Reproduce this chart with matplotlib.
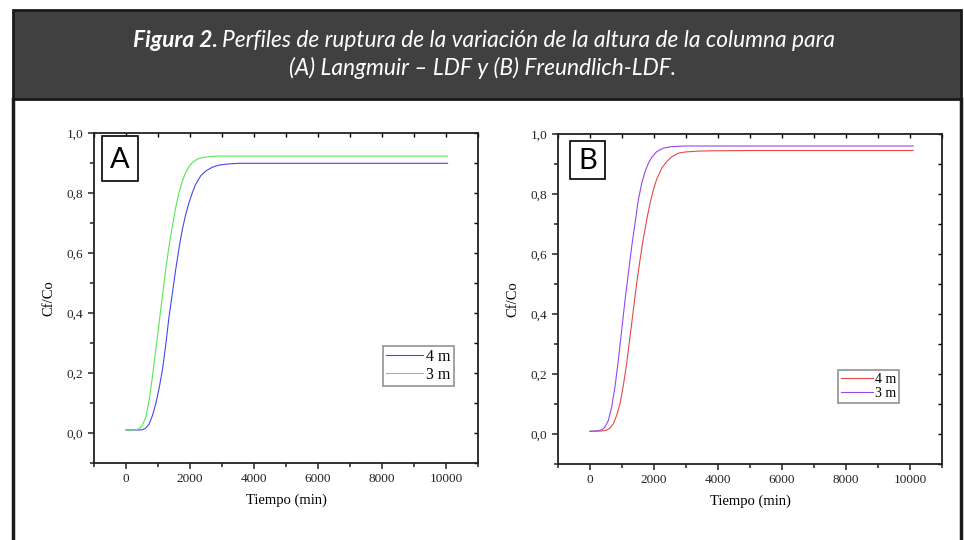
import matplotlib
matplotlib.use("Agg")
import matplotlib.pyplot as plt
from matplotlib.ticker import MultipleLocator, FuncFormatter
from matplotlib.patches import Rectangle

# Panel A: Langmuir - LDF  (tiempo en min, Cf/Co)
a_4m_t = [0, 406, 510, 615, 719, 823, 927, 1031, 1135, 1240, 1344, 1448, 1552, 1656, 1760,
          1865, 1969, 2073, 2177, 2333, 2490, 2698, 2906, 3219, 3531, 5000, 10050]
a_4m_c = [0.010, 0.010, 0.011, 0.016, 0.029, 0.057, 0.096, 0.147, 0.208, 0.292, 0.387, 0.465,
          0.544, 0.616, 0.678, 0.728, 0.768, 0.801, 0.829, 0.857, 0.873, 0.886, 0.893, 0.897,
          0.899, 0.899, 0.899]
a_3m_t = [0, 198, 302, 406, 510, 615, 719, 823, 927, 1031, 1135, 1240, 1344, 1448, 1552, 1656,
          1760, 1865, 1969, 2073, 2229, 2385, 2646, 2906, 4000, 10050]
a_3m_c = [0.010, 0.010, 0.011, 0.014, 0.026, 0.051, 0.107, 0.185, 0.275, 0.364, 0.454, 0.544,
          0.622, 0.689, 0.751, 0.801, 0.840, 0.868, 0.888, 0.902, 0.913, 0.918, 0.922, 0.923,
          0.923, 0.923]

# Panel B: Freundlich - LDF
b_4m_t = [0, 365, 521, 625, 729, 833, 938, 1042, 1146, 1250, 1354, 1458, 1563, 1667, 1771,
          1875, 1979, 2083, 2240, 2396, 2552, 2760, 2969, 3385, 3802, 5000, 10100]
b_4m_c = [0.009, 0.010, 0.013, 0.020, 0.034, 0.062, 0.101, 0.162, 0.235, 0.324, 0.413, 0.502,
          0.580, 0.652, 0.713, 0.769, 0.813, 0.849, 0.886, 0.908, 0.924, 0.936, 0.940, 0.943,
          0.944, 0.945, 0.945]
b_3m_t = [0, 208, 365, 469, 573, 677, 781, 885, 990, 1094, 1198, 1302, 1406, 1510, 1615, 1719,
          1823, 1927, 2083, 2292, 2552, 2969, 4000, 10100]
b_3m_c = [0.009, 0.010, 0.014, 0.023, 0.045, 0.090, 0.157, 0.246, 0.346, 0.446, 0.535, 0.624,
          0.702, 0.780, 0.835, 0.874, 0.902, 0.922, 0.941, 0.953, 0.958, 0.960, 0.960, 0.960]

W, H = 964, 540
fig = plt.figure(figsize=(W / 100, H / 100), dpi=100)

# capa de fondo en pixeles
bg = fig.add_axes([0, 0, 1, 1])
bg.set_xlim(0, W)
bg.set_ylim(H, 0)
bg.axis('off')
bg.add_patch(Rectangle((13, 10), 948, 89, facecolor='#404040', edgecolor='#1a1a1a', lw=2))
bg.plot([13, 13], [99, 540], color='#1a1a1a', lw=2.5)
bg.plot([961, 961], [99, 540], color='#1a1a1a', lw=2.5)

hfont = ['Liberation Sans Narrow', 'Lato', 'DejaVu Sans']
bg.text(218, 47, 'Figura 2.', color='white', fontsize=16.4, fontweight='bold',
        fontstyle='italic', family=hfont, ha='right', va='baseline')
bg.text(222, 47, 'Perfiles de ruptura de la variación de la altura de la columna para',
        color='white', fontsize=16.4, fontstyle='italic', family=hfont, ha='left', va='baseline')
bg.text(483, 75, '(A) Langmuir – LDF y (B) Freundlich-LDF.', color='white', fontsize=16.4,
        fontstyle='italic', family=hfont, ha='center', va='baseline')

serif = ['Liberation Serif', 'DejaVu Serif']
comma = FuncFormatter(lambda v, p: f'{v:.1f}'.replace('.', ','))


def panel(rect, t1, c1, col1, t2, c2, col2, letter, box, leg_anchor, leg_fs):
    ax = fig.add_axes(rect)
    ax.plot(t1, c1, color=col1, lw=0.8, label='4 m')
    ax.plot(t2, c2, color=col2, lw=0.8, label='3 m')
    ax.set_xlim(-1000, 11000)
    ax.set_ylim(-0.1, 1.0)
    ax.xaxis.set_major_locator(MultipleLocator(2000))
    ax.xaxis.set_minor_locator(MultipleLocator(1000))
    ax.yaxis.set_major_locator(MultipleLocator(0.2))
    ax.yaxis.set_minor_locator(MultipleLocator(0.1))
    ax.yaxis.set_major_formatter(comma)
    for s in ax.spines.values():
        s.set_linewidth(1.3)
        s.set_color('#222222')
    ax.tick_params(which='both', direction='out', width=1.1, colors='#222222',
                   labelsize=9.5, top=False, right=False)
    ax.tick_params(which='major', length=4)
    ax.tick_params(which='minor', length=3)
    for lab in ax.get_xticklabels() + ax.get_yticklabels():
        lab.set_family(serif)
    ax.set_xlabel('Tiempo (min)', family=serif, fontsize=10.5, labelpad=6)
    ax.set_ylabel('Cf/Co', family=serif, fontsize=10.5, labelpad=8)
    # ticks hacia adentro arriba y a la derecha
    sec = ax.secondary_xaxis('top')
    sec.xaxis.set_major_locator(MultipleLocator(1000))
    sec.tick_params(direction='in', length=3, width=1, labeltop=False)
    sec.spines['top'].set_visible(False)
    sec2 = ax.secondary_yaxis('right')
    sec2.yaxis.set_major_locator(MultipleLocator(0.1))
    sec2.tick_params(direction='in', length=3, width=1, labelright=False)
    sec2.spines['right'].set_visible(False)
    leg = ax.legend(loc='upper left', bbox_to_anchor=leg_anchor, frameon=True, fancybox=False,
                    prop={'family': serif, 'size': leg_fs}, handlelength=2.3, handletextpad=0.2,
                    borderpad=0.2, labelspacing=0.1, borderaxespad=0)
    leg.get_frame().set_edgecolor('#777777')
    leg.get_frame().set_linewidth(1.2)
    # recuadro con la letra
    bx, by, bw, bh = box
    bg.add_patch(Rectangle((bx, by), bw, bh, facecolor='white', edgecolor='black', lw=1.2, zorder=5))
    bg.text(bx + bw / 2, by + bh / 2 + 1, letter, fontsize=21, family=['Lato', 'DejaVu Sans'],
            ha='center', va='center', zorder=6)
    return ax


axA = panel([94 / W, 1 - 463 / H, 384 / W, 330 / H], a_4m_t, a_4m_c, '#4646ee',
            a_3m_t, a_3m_c, '#55e655', 'A', (102, 136, 36, 45), (0.752, 0.355), 11.5)
axB = panel([558 / W, 1 - 464 / H, 384 / W, 330 / H], b_4m_t, b_4m_c, '#e84848',
            b_3m_t, b_3m_c, '#9448ee', 'B', (570, 141, 35, 38), (0.729, 0.285), 10)
bg.set_zorder(3)
bg.patch.set_visible(False)

fig.savefig('out.png', dpi=100)
